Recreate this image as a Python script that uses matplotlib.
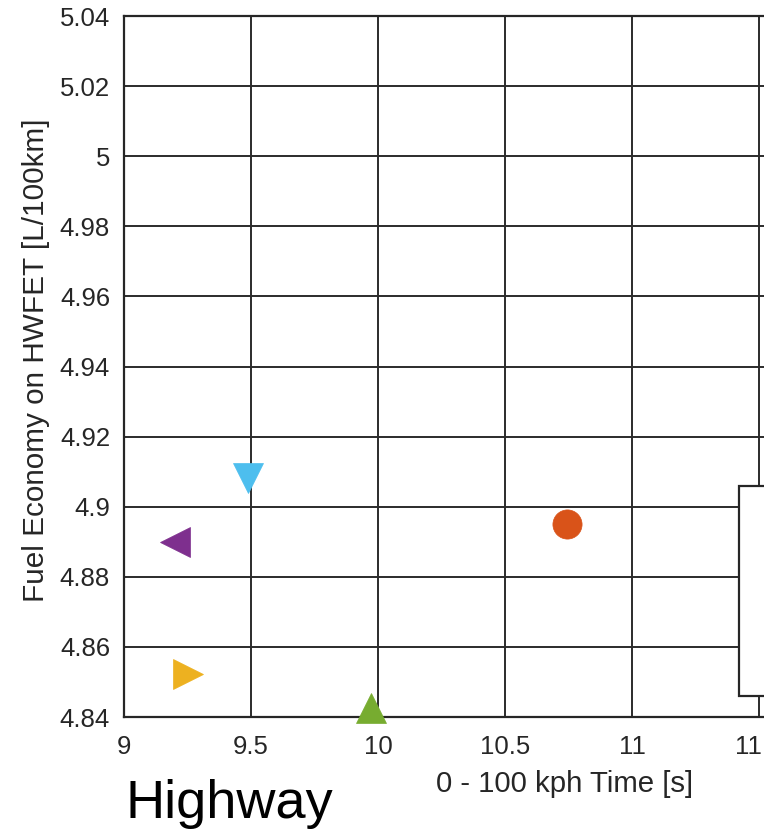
import matplotlib
matplotlib.use("Agg")
import matplotlib.pyplot as plt
from matplotlib.patches import Rectangle

# ---- data ----
accel_time = [9.490, 9.201, 9.250, 9.972, 10.743]        # 0-100 kph time [s]
fuel_econ = [4.9083, 4.8899, 4.8524, 4.8426, 4.8951]    # L/100km
markers = ['v', '<', '>', '^', 'o']
colors = ['#4DBEEE', '#7E2F8E', '#EDB120', '#77AC30', '#D95319']

x_ticks = [9, 9.5, 10, 10.5, 11, 11.5, 12, 12.5]
x_tick_labels = ['9', '9.5', '10', '10.5', '11', '11.5', '12', '12.5']
y_ticks = [4.84, 4.86, 4.88, 4.90, 4.92, 4.94, 4.96, 4.98, 5.00, 5.02, 5.04]
y_tick_labels = ['4.84', '4.86', '4.88', '4.9', '4.92', '4.94', '4.96', '4.98', '5', '5.02', '5.04']

plt.rcParams['font.family'] = ['Liberation Sans', 'DejaVu Sans']

W, H = 764, 834
fig = plt.figure(figsize=(W / 100, H / 100), dpi=100)
fig.patch.set_facecolor('white')

ax_l, ax_r, ax_t, ax_b = 124, 1013, 16, 717
ax = fig.add_axes([ax_l / W, 1 - ax_b / H, (ax_r - ax_l) / W, (ax_b - ax_t) / H])

ax.set_xlim(9, 12.5)
ax.set_ylim(4.84, 5.04)
ax.set_xticks(x_ticks)
ax.set_xticklabels(x_tick_labels)
ax.set_yticks(y_ticks)
ax.set_yticklabels(y_tick_labels)

text_col = '#262626'
ax.tick_params(axis='both', length=0, labelsize=18.5, colors=text_col)
ax.tick_params(axis='y', pad=10)
ax.tick_params(axis='x', pad=13)
ax.grid(True, color='#2b2b2b', linewidth=1.4)
ax.set_axisbelow(True)
for s in ax.spines.values():
    s.set_color('#262626')
    s.set_linewidth(1.6)

for x, y, m, c in zip(accel_time, fuel_econ, markers, colors):
    ms = 21 if m == 'o' else 22
    ax.plot([x], [y], linestyle='none', marker=m, markersize=ms,
            markerfacecolor=c, markeredgecolor=c, markeredgewidth=0.5,
            clip_on=False, zorder=5)

# legend frame (contents lie outside the visible area)
ax_w = ax_r - ax_l
ax_h = ax_b - ax_t
leg = Rectangle(((739 - ax_l) / ax_w, (ax_b - 695.5) / ax_h), 0.25,
                (695.5 - 486) / ax_h, transform=ax.transAxes,
                facecolor='white', edgecolor='#262626', linewidth=1.6,
                zorder=4, clip_on=False)
ax.add_patch(leg)

ax.set_xlabel('0 - 100 kph Time [s]', fontsize=21.2, color=text_col)
ax.xaxis.set_label_coords((565 - ax_l) / ax_w, -(770 - ax_b) / ax_h)
ax.set_ylabel('Fuel Economy on HWFET [L/100km]', fontsize=21.4, color=text_col)
ax.yaxis.set_label_coords(-(ax_l - 50) / ax_w, (ax_b - 360) / ax_h)

fig.text(126 / W, 1 - 818 / H, 'Highway', fontsize=39, color='black',
         ha='left', va='baseline')

fig.savefig('out.png', dpi=100, facecolor='white')
